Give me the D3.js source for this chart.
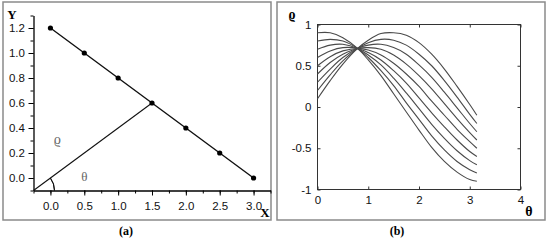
<!DOCTYPE html>
<html>
<head>
<meta charset="utf-8">
<script src="https://cdn.jsdelivr.net/npm/d3@7"></script>
<style>
  body { margin: 0; background: #fff; }
  svg { display: block; }
  .tick-label { font-family: "Liberation Sans", Arial, sans-serif; font-size: 11.5px; fill: #111; }
  .serif { font-family: "Liberation Serif", "Times New Roman", serif; }
</style>
</head>
<body>
<svg id="fig" width="550" height="240"></svg>
<script>
/* DATA */

// panel (a): points on the line
const lineX = [0.0, 0.5, 1.0, 1.5, 2.0, 2.5, 3.0];
const lineY = [1.2, 1.0, 0.8, 0.6, 0.4, 0.2, 0.0];
const rayEnd = [1.5, 0.6];

const xTicksA = [0.0, 0.5, 1.0, 1.5, 2.0, 2.5, 3.0];
const yTicksA = [0.0, 0.2, 0.4, 0.6, 0.8, 1.0, 1.2];

const theta = [0, 0.25, 0.5, 0.79, 1.0, 1.25, 1.5, 1.75, 2.0, 2.25, 2.5, 2.75, 3.0, 3.14];
const rho1 = [0.1, 0.32, 0.52, 0.71, 0.81, 0.89, 0.90, 0.87, 0.78, 0.64, 0.46, 0.25, 0.03, -0.10];
const rho2 = [0.2, 0.39, 0.56, 0.71, 0.78, 0.82, 0.81, 0.75, 0.64, 0.50, 0.32, 0.12, -0.09, -0.20];
const rho3 = [0.3, 0.46, 0.60, 0.71, 0.75, 0.76, 0.72, 0.64, 0.51, 0.36, 0.18, -0.01, -0.20, -0.30];
const rho4 = [0.4, 0.54, 0.64, 0.71, 0.72, 0.70, 0.63, 0.52, 0.38, 0.22, 0.04, -0.14, -0.31, -0.40];
const rho5 = [0.5, 0.61, 0.68, 0.71, 0.69, 0.63, 0.53, 0.40, 0.25, 0.07, -0.10, -0.27, -0.42, -0.50];
const rho6 = [0.6, 0.68, 0.72, 0.71, 0.66, 0.57, 0.44, 0.29, 0.11, -0.07, -0.24, -0.40, -0.54, -0.60];
const rho7 = [0.7, 0.75, 0.76, 0.71, 0.63, 0.51, 0.35, 0.17, -0.02, -0.21, -0.38, -0.53, -0.65, -0.70];
const rho8 = [0.8, 0.82, 0.80, 0.71, 0.60, 0.44, 0.26, 0.05, -0.15, -0.35, -0.52, -0.66, -0.76, -0.80];
const rho9 = [0.9, 0.90, 0.84, 0.71, 0.57, 0.38, 0.16, -0.06, -0.28, -0.49, -0.66, -0.79, -0.88, -0.90];
const curves = [rho1, rho2, rho3, rho4, rho5, rho6, rho7, rho8, rho9];

const xTicksB = [0, 1, 2, 3, 4];
const yTicksB = [-1, -0.5, 0, 0.5, 1];

const svg = d3.select("svg#fig");

/* PANEL FRAMES */

svg.append("rect").attr("x", 3).attr("y", 2).attr("width", 268).attr("height", 218)
  .attr("fill", "none").attr("stroke", "#8a8a8a").attr("stroke-width", 1.5);
svg.append("rect").attr("x", 277).attr("y", 2).attr("width", 268).attr("height", 218)
  .attr("fill", "none").attr("stroke", "#8a8a8a").attr("stroke-width", 1.5);

svg.append("text").attr("class", "serif").attr("x", 126).attr("y", 235)
  .attr("text-anchor", "middle").attr("font-weight", "bold").attr("font-size", 12).text("(a)");
svg.append("text").attr("class", "serif").attr("x", 397).attr("y", 235)
  .attr("text-anchor", "middle").attr("font-weight", "bold").attr("font-size", 12).text("(b)");

/* PANEL (a) */

let xA = d3.scaleLinear().domain([-0.25, 3.25]).range([33.5, 270.5]);
let yA = d3.scaleLinear().domain([-0.1, 1.3]).range([190.5, 15.5]);

const gA = svg.append("g");

// minor ticks
gA.append("g").attr("transform", "translate(0,190.5)")
  .call(d3.axisBottom(xA).tickValues(d3.range(-0.25, 3.26, 0.25)).tickSize(3).tickFormat("").tickSizeOuter(0))
  .call(g => g.select(".domain").remove());
gA.append("g").attr("transform", "translate(33.5,0)")
  .call(d3.axisLeft(yA).tickValues(d3.range(-0.1, 1.31, 0.1)).tickSize(3).tickFormat("").tickSizeOuter(0))
  .call(g => g.select(".domain").remove());

// major ticks
let xAxisA = gA.append("g").attr("transform", "translate(0,190.5)")
  .call(d3.axisBottom(xA).tickValues(xTicksA).tickFormat(d3.format(".1f")).tickSize(5).tickSizeOuter(0));
let yAxisA = gA.append("g").attr("transform", "translate(33.5,0)")
  .call(d3.axisLeft(yA).tickValues(yTicksA).tickFormat(d3.format(".1f")).tickSize(5).tickSizeOuter(0));

[xAxisA, yAxisA].forEach(ax => {
  ax.selectAll("text").attr("class", "tick-label").attr("fill", null);
  ax.select(".domain").attr("stroke-width", 1.3);
});
xAxisA.selectAll("text").attr("dy", "1.0em");
yAxisA.selectAll("text").attr("dx", "-0.05em");
gA.selectAll(".tick line").attr("stroke", "#000");

// ray from the origin corner and angle arc
gA.append("line")
  .attr("x1", xA(-0.25)).attr("y1", yA(-0.1))
  .attr("x2", xA(rayEnd[0])).attr("y2", yA(rayEnd[1]))
  .attr("stroke", "#111").attr("stroke-width", 1.1);

const rayAngle = Math.atan2(yA(-0.1) - yA(rayEnd[1]), xA(rayEnd[0]) - xA(-0.25));
gA.append("path")
  .attr("transform", "translate(" + xA(-0.25) + "," + yA(-0.1) + ")")
  .attr("d", d3.arc()({ innerRadius: 21, outerRadius: 21, startAngle: Math.PI / 2 - rayAngle, endAngle: Math.PI / 2 }))
  .attr("fill", "none").attr("stroke", "#111").attr("stroke-width", 1);

// the line with dots
const pts = lineX.map((x, i) => [x, lineY[i]]);
gA.append("path").datum(pts)
  .attr("d", d3.line().x(d => xA(d[0])).y(d => yA(d[1])))
  .attr("fill", "none").attr("stroke", "#111").attr("stroke-width", 1.4);
gA.selectAll("circle").data(pts).join("circle")
  .attr("cx", d => xA(d[0])).attr("cy", d => yA(d[1])).attr("r", 2.6).attr("fill", "#000");

gA.append("text").attr("class", "serif").attr("x", xA(0.1)).attr("y", yA(0.27))
  .attr("text-anchor", "middle").attr("font-size", 14).attr("fill", "#666").text("ϱ");
gA.append("text").attr("class", "serif").attr("x", xA(0.5)).attr("y", yA(-0.02))
  .attr("text-anchor", "middle").attr("font-size", 13).attr("fill", "#666").text("θ");

gA.append("text").attr("class", "serif").attr("x", 265).attr("y", 217)
  .attr("text-anchor", "middle").attr("font-weight", "bold").attr("font-size", 13).text("X");
gA.append("text").attr("class", "serif").attr("x", 12).attr("y", 19)
  .attr("text-anchor", "middle").attr("font-weight", "bold").attr("font-size", 13).text("Y");

/* PANEL (b) */

let xB = d3.scaleLinear().domain([0, 4]).range([317.5, 520.5]);
let yB = d3.scaleLinear().domain([-1, 1]).range([189.5, 24.5]);

const gB = svg.append("g");

gB.append("rect").attr("x", 317.5).attr("y", 24.5).attr("width", 203).attr("height", 165)
  .attr("fill", "none").attr("stroke", "#333").attr("stroke-width", 1);

let xAxisB = gB.append("g").attr("transform", "translate(0,189.5)")
  .call(d3.axisBottom(xB).tickValues(xTicksB).tickSize(-3).tickPadding(6).tickFormat(d => String(d)).tickSizeOuter(0));
let xAxisTopB = gB.append("g").attr("transform", "translate(0,24.5)")
  .call(d3.axisTop(xB).tickValues(xTicksB).tickSize(-3).tickFormat("").tickSizeOuter(0));
let yAxisB = gB.append("g").attr("transform", "translate(317.5,0)")
  .call(d3.axisLeft(yB).tickValues(yTicksB).tickSize(-3).tickPadding(6).tickFormat(d => String(d)).tickSizeOuter(0));
let yAxisRightB = gB.append("g").attr("transform", "translate(520.5,0)")
  .call(d3.axisRight(yB).tickValues(yTicksB).tickSize(-3).tickFormat("").tickSizeOuter(0));

[xAxisB, xAxisTopB, yAxisB, yAxisRightB].forEach(ax => {
  ax.select(".domain").remove();
  ax.selectAll("text").attr("class", "tick-label").attr("fill", null);
  ax.selectAll(".tick line").attr("stroke", "#333");
});

const curveLine = d3.line()
  .x((d, i) => xB(theta[i]))
  .y(d => yB(d))
  .curve(d3.curveCatmullRom.alpha(0.5));

gB.selectAll("path.rho").data(curves).join("path")
  .attr("class", "rho")
  .attr("d", curveLine)
  .attr("fill", "none").attr("stroke", "#4a4a4a").attr("stroke-width", 1.1);

gB.append("text").attr("class", "serif").attr("x", 292).attr("y", 19)
  .attr("text-anchor", "middle").attr("font-weight", "bold").attr("font-size", 14).text("ϱ");
gB.append("text").attr("class", "serif").attr("x", 529).attr("y", 216)
  .attr("text-anchor", "middle").attr("font-weight", "bold").attr("font-size", 14).text("θ");
</script>
</body>
</html>
